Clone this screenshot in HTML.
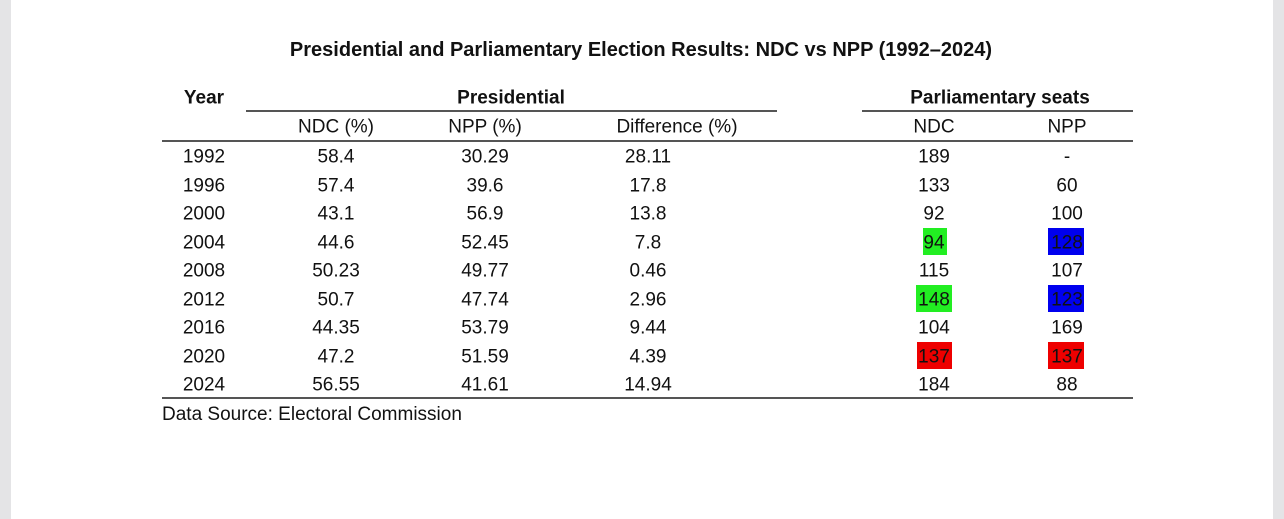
<!DOCTYPE html>
<html><head><meta charset="utf-8"><style>
body{margin:0;width:1284px;height:519px;background:#fff;position:relative;overflow:hidden;font-family:"Liberation Sans",sans-serif;color:#111}
.t{position:absolute;transform:translate(-50%,-50%);white-space:nowrap;font-size:19px;line-height:1}
.b{font-weight:bold}
.l{position:absolute;height:2px;background:#555}
.hl{position:absolute;}
</style></head><body>
<div style="position:absolute;left:0;top:0;width:11px;height:519px;background:#e4e4e6"></div>
<div style="position:absolute;left:1273px;top:0;width:11px;height:519px;background:#e4e4e6"></div>
<div class="t b" style="left:641px;top:50px;font-size:20px">Presidential and Parliamentary Election Results: NDC vs NPP (1992–2024)</div>
<div class="t b" style="left:204px;top:98px">Year</div>
<div class="t b" style="left:511px;top:98px">Presidential</div>
<div class="t b" style="left:1000px;top:98px">Parliamentary seats</div>
<div class="l" style="left:246px;width:531px;top:110px"></div>
<div class="l" style="left:862px;width:271px;top:110px"></div>
<div class="t" style="left:336px;top:127px">NDC (%)</div>
<div class="t" style="left:485px;top:127px">NPP (%)</div>
<div class="t" style="left:677px;top:127px">Difference (%)</div>
<div class="t" style="left:934px;top:127px">NDC</div>
<div class="t" style="left:1067px;top:127px">NPP</div>
<div class="l" style="left:162px;width:971px;top:140px"></div>
<div class="hl" style="left:923px;top:228px;width:24px;height:27px;background:#22ee22"></div>
<div class="hl" style="left:1048px;top:228px;width:36px;height:27px;background:#0000ee"></div>
<div class="hl" style="left:916px;top:285px;width:36px;height:27px;background:#22ee22"></div>
<div class="hl" style="left:1048px;top:285px;width:36px;height:27px;background:#0000ee"></div>
<div class="hl" style="left:917px;top:342px;width:35px;height:27px;background:#ee0000"></div>
<div class="hl" style="left:1048px;top:342px;width:36px;height:27px;background:#ee0000"></div>
<div id="rows"></div>
<div class="l" style="left:162px;width:971px;top:397px"></div>
<div style="position:absolute;left:162px;top:405px;font-size:19px;line-height:20px;white-space:nowrap">Data Source: Electoral Commission</div>
<script>
var d=[["1992","58.4","30.29","28.11","189","-"],["1996","57.4","39.6","17.8","133","60"],["2000","43.1","56.9","13.8","92","100"],["2004","44.6","52.45","7.8","94","128"],["2008","50.23","49.77","0.46","115","107"],["2012","50.7","47.74","2.96","148","123"],["2016","44.35","53.79","9.44","104","169"],["2020","47.2","51.59","4.39","137","137"],["2024","56.55","41.61","14.94","184","88"]];
var xs=[204,336,485,648,934,1067],h="";
d.forEach(function(r,i){var y=157+i*28.5;r.forEach(function(v,j){h+='<div class="t" style="left:'+xs[j]+'px;top:'+y+'px">'+v+'</div>';});});
document.getElementById("rows").innerHTML=h;
</script>
</body></html>
